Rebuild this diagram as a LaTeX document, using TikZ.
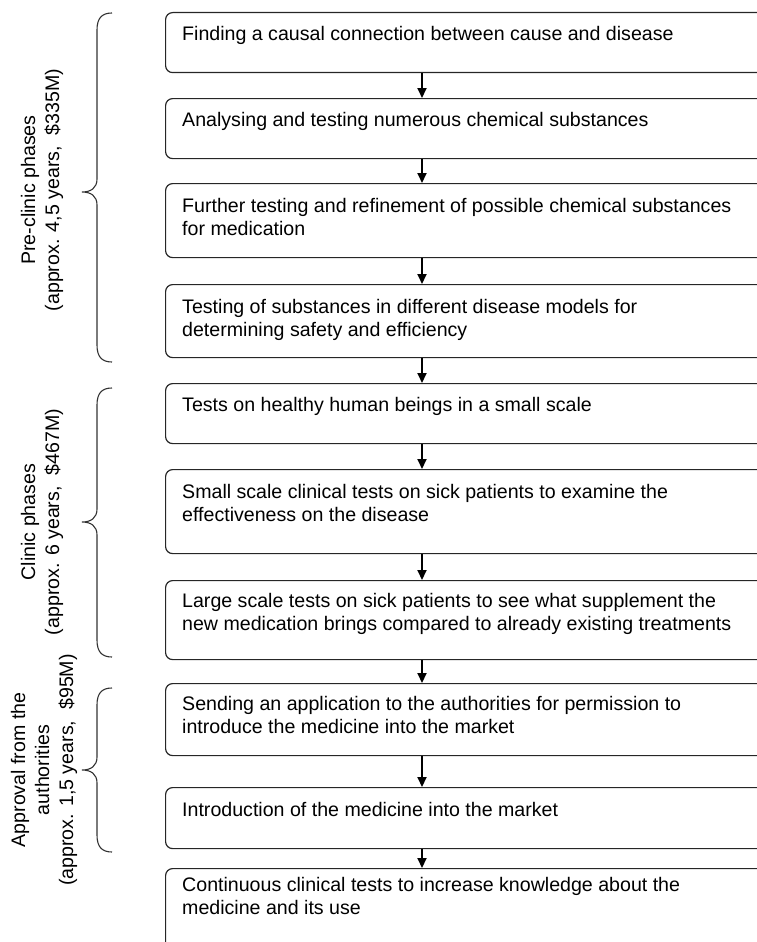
\documentclass[tikz,border=0pt]{standalone}
\usepackage{fontspec}
\setmainfont{Liberation Sans}
\usetikzlibrary{arrows.meta,calc}

\tikzset{
  stage/.style={draw=black!85, line width=1.2pt, rounded corners=7pt,
                anchor=north west, minimum width=640pt, inner sep=0pt},
  stagetext/.style={anchor=north west, align=left, inner sep=0pt,
                    font=\fontsize{19.6}{23.5}\selectfont},
  flow/.style={line width=2pt, -{Triangle[length=10pt,width=9pt]}},
  curly/.style={draw=black!80, line width=1.1pt},
  phase/.style={rotate=90, align=center, inner sep=0pt,
                font=\fontsize{19.6}{24}\selectfont}
}

% fixed ascent so that a text node's top sits 15pt above its first baseline
\newcommand{\firstline}{\rule{0pt}{15pt}}

% curly brace opening to the right: top y, middle y, bottom y
\newcommand{\phasebrace}[3]{%
  \draw[curly] (112,#1) .. controls (102,#1) and (97,#1+5) .. (97,#1+17)
    -- (97,#2-13) .. controls (97,#2-4) and (91,#2) .. (82,#2)
    .. controls (91,#2) and (97,#2+4) .. (97,#2+13)
    -- (97,#3-17) .. controls (97,#3-5) and (102,#3) .. (112,#3);}

\begin{document}
\begin{tikzpicture}[x=1pt,y=-1pt]
\useasboundingbox (0,0) rectangle (756,942);

\coordinate (ax) at (422,0);

% stage boxes (right side runs past the page edge)
\node[stage, minimum height=60pt] (b1) at (165,12) {};
\node[stage, minimum height=60pt] (b2) at (165,98) {};
\node[stage, minimum height=74pt] (b3) at (165,183) {};
\node[stage, minimum height=73pt] (b4) at (165,284) {};
\node[stage, minimum height=60pt] (b5) at (165,383) {};
\node[stage, minimum height=84pt] (b6) at (165,469) {};
\node[stage, minimum height=79pt] (b7) at (165,580) {};
\node[stage, minimum height=72pt] (b8) at (165,683) {};
\node[stage, minimum height=61pt] (b9) at (165,787) {};
\node[stage, minimum height=100pt] (b10) at (165,868) {};

% stage texts (offsets are first-baseline depth minus 15pt)
\node[stagetext] (t1) at ($(b1.north west)+(17,13)$) {\firstline Finding a causal connection between cause and disease};
\node[stagetext] (t2) at ($(b2.north west)+(17,13)$) {\firstline Analysing and testing numerous chemical substances};
\node[stagetext] (t3) at ($(b3.north west)+(17,14)$) {\firstline Further testing and refinement of possible chemical substances\\for medication};
\node[stagetext] (t4) at ($(b4.north west)+(17,14)$) {\firstline Testing of substances in different disease models for\\determining safety and efficiency};
\node[stagetext] (t5) at ($(b5.north west)+(17,13)$) {\firstline Tests on healthy human beings in a small scale};
\node[stagetext] (t6) at ($(b6.north west)+(17,14)$) {\firstline Small scale clinical tests on sick patients to examine the\\effectiveness on the disease};
\node[stagetext] (t7) at ($(b7.north west)+(17,12)$) {\firstline Large scale tests on sick patients to see what supplement the\\new medication brings compared to already existing treatments};
\node[stagetext] (t8) at ($(b8.north west)+(17,12)$) {\firstline Sending an application to the authorities for permission to\\introduce the medicine into the market};
\node[stagetext] (t9) at ($(b9.north west)+(17,14)$) {\firstline Introduction of the medicine into the market};
\node[stagetext] (t10) at ($(b10.north west)+(17,8)$) {\firstline Continuous clinical tests to increase knowledge about the\\medicine and its use};

% flow arrows
\foreach \a/\b in {b1/b2,b2/b3,b3/b4,b4/b5,b5/b6,b6/b7,b7/b8,b8/b9,b9/b10}
  \draw[flow] (\a.south -| ax) -- (\b.north -| ax);

% phase braces
\phasebrace{13}{192}{362}
\phasebrace{388}{522}{657}
\phasebrace{688}{770}{852}

% phase labels
\node[phase] (p1) at (42,190) {Pre-clinic phases\\(approx. 4,5 years,\ \ \$335M)};
\node[phase] (p2) at (42,522) {Clinic phases\\(approx. 6 years,\ \ \$467M)};
\node[phase] (p3) at (44,770) {Approval from the\\authorities\\(approx. 1,5 years,\ \ \$95M)};
\end{tikzpicture}
\end{document}
